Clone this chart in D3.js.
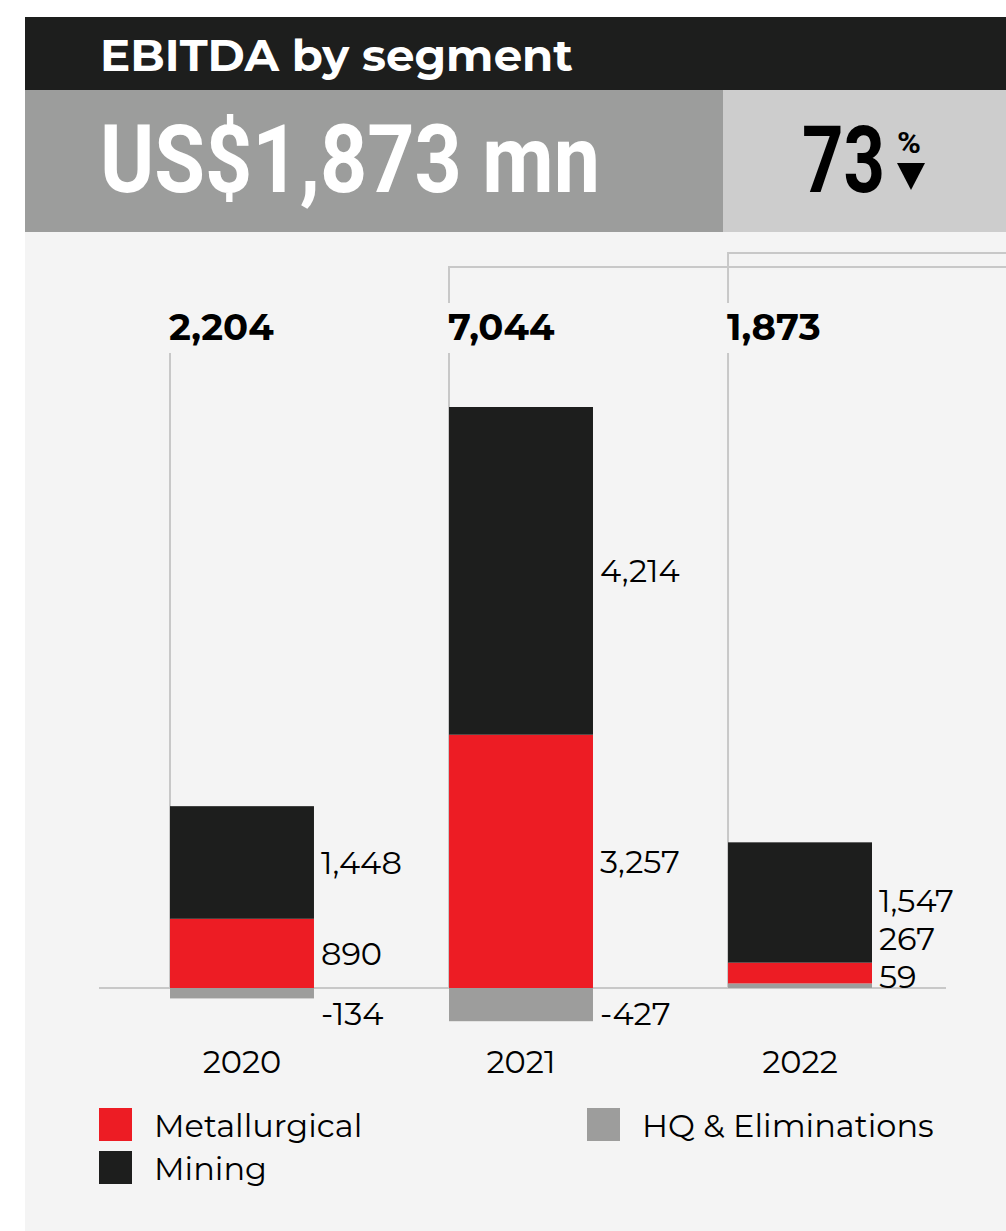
<!DOCTYPE html>
<html>
<head>
<meta charset="utf-8">
<script src="https://cdn.jsdelivr.net/npm/d3@7"></script>
<style>
  html, body { margin: 0; padding: 0; background: #ffffff; }
  svg { display: block; }
</style>
</head>
<body>
<script>
// ---------------- data ----------------
const years = ["2020", "2021", "2022"];
const metallurgical = [890, 3257, 267];
const mining = [1448, 4214, 1547];
const hqEliminations = [-134, -427, 59];
const totals = [2204, 7044, 1873];
const seriesNames = ["Metallurgical", "Mining", "HQ & Eliminations"];
const titleText = "EBITDA by segment";
const headlineText = "US$1,873 mn";
const changePercent = 73;

// ---------------- layout / style ----------------
const W = 1006, H = 1231;
const colors = { "Metallurgical": "#ed1c24", "Mining": "#1d1e1d", "HQ & Eliminations": "#9d9d9c" };
const labelFont = "Montserrat, 'DejaVu Sans', sans-serif";
const condFont = "Roboto, 'Liberation Sans', sans-serif";
const baseY = 988, topY = 407;
const lineColor = "#c8c8c8";

const svg = d3.select("body").append("svg").attr("width", W).attr("height", H);

// text fitted horizontally to a target width via a scale transform
function fittedText(tx, ty, width, font, weight, size, fill, str) {
  const t = svg.append("text").attr("x", 0).attr("y", 0)
    .attr("font-family", font).attr("font-weight", weight).attr("font-size", size)
    .attr("fill", fill).text(str);
  const len = t.node().getComputedTextLength() || width;
  t.attr("transform", `translate(${tx},${ty}) scale(${width / len},1)`);
  return t;
}

// backgrounds
svg.append("rect").attr("x", 25).attr("y", 232).attr("width", W - 25).attr("height", H - 232).attr("fill", "#f4f4f4");
svg.append("rect").attr("x", 25).attr("y", 17).attr("width", W - 25).attr("height", 73).attr("fill", "#1d1e1d");
svg.append("rect").attr("x", 25).attr("y", 90).attr("width", 698).attr("height", 142).attr("fill", "#9c9d9c");
svg.append("rect").attr("x", 723).attr("y", 90).attr("width", W - 723).attr("height", 142).attr("fill", "#cdcdcd");

// header texts
fittedText(100, 71, 473, labelFont, 700, 44, "#ffffff", titleText);
fittedText(100, 192, 500, condFont, 700, 94, "#ffffff", headlineText);
fittedText(802, 192, 83, condFont, 700, 92, "#000000", String(changePercent));
fittedText(897, 153, 24, condFont, 700, 30, "#000000", "%");
svg.append("path").attr("d", "M897,163 L925,163 L911,190 Z").attr("fill", "#000000");

// ---------------- scales ----------------
const fmt = d3.formatLocale({ decimal: ".", thousands: ",", grouping: [3], currency: ["$", ""], minus: "-" }).format(",");

const rows = years.map((y, i) => ({
  year: y,
  "Metallurgical": metallurgical[i],
  "Mining": mining[i],
  "HQ & Eliminations": hqEliminations[i],
  total: totals[i]
}));

const stackKeys = ["HQ & Eliminations", "Metallurgical", "Mining"];
const stacked = d3.stack().keys(stackKeys).offset(d3.stackOffsetDiverging)(rows);

const maxPos = d3.max(rows, r => stackKeys.reduce((s, k) => s + Math.max(0, r[k]), 0));

const x = d3.scaleBand().domain(years).range([170, 872]).paddingInner(0.484).paddingOuter(0);
const y = d3.scaleLinear().domain([0, maxPos]).range([baseY, topY]);

// baseline
svg.append("line").attr("x1", 99).attr("x2", 946).attr("y1", y(0)).attr("y2", y(0))
  .attr("stroke", lineColor).attr("stroke-width", 2);

// vertical guide lines under total labels
svg.append("g").selectAll("line").data(rows).join("line")
  .attr("x1", d => x(d.year)).attr("x2", d => x(d.year))
  .attr("y1", 353).attr("y2", y(0))
  .attr("stroke", lineColor).attr("stroke-width", 2);

// comparison brackets (2021 and 2022 to the % change box)
const bracketY = { "2021": 267, "2022": 253 };
Object.keys(bracketY).forEach(yr => {
  const bx = x(yr), by = bracketY[yr];
  svg.append("path")
    .attr("d", `M${bx},303 L${bx},${by} L${W},${by}`)
    .attr("fill", "none").attr("stroke", lineColor).attr("stroke-width", 2);
});

// bars
const gBars = svg.append("g");
stacked.forEach(layer => {
  gBars.append("g").attr("fill", colors[layer.key])
    .selectAll("rect").data(layer).join("rect")
    .attr("x", d => x(d.data.year))
    .attr("width", x.bandwidth())
    .attr("y", d => y(Math.max(d[0], d[1])))
    .attr("height", d => Math.abs(y(d[0]) - y(d[1])));
});

// total labels
svg.append("g").selectAll("text").data(rows).join("text")
  .attr("x", d => x(d.year) - 1).attr("y", 340)
  .attr("font-family", labelFont).attr("font-weight", 700).attr("font-size", 37)
  .attr("fill", "#000").text(d => fmt(d.total));

// segment value labels
const labelData = [];
rows.forEach((r, i) => {
  const pos = [];
  stacked.forEach(layer => {
    const d = layer[i];
    const v = r[layer.key];
    const mid = (y(d[0]) + y(d[1])) / 2;
    if (v >= 0) pos.push({ year: r.year, v, mid });
    else labelData.push({ year: r.year, v, cy: Math.max(mid, y(0) + 25) });
  });
  // positive labels: from bottom up, avoid overlaps
  let prev = y(0) + 26;
  pos.sort((a, b) => b.mid - a.mid).forEach(p => {
    const cy = Math.min(p.mid, prev - 38);
    prev = cy;
    labelData.push({ year: r.year, v: p.v, cy });
  });
});

svg.append("g").selectAll("text").data(labelData).join("text")
  .attr("x", d => x(d.year) + x.bandwidth() + 7)
  .attr("y", d => d.cy)
  .attr("dy", "0.36em")
  .attr("font-family", labelFont).attr("font-size", 32)
  .attr("fill", "#000").text(d => fmt(d.v));

// year axis labels
const xAxis = d3.axisBottom(x).tickSize(0).tickPadding(0);
const gx = svg.append("g").attr("transform", `translate(0, 1073)`).call(xAxis);
gx.select(".domain").remove();
gx.selectAll("text").attr("dy", 0).attr("y", 0)
  .attr("font-family", labelFont).attr("font-size", 32).attr("fill", "#000");

// legend
const legendItems = [
  { name: seriesNames[0], lx: 99, ly: 1108 },
  { name: seriesNames[1], lx: 99, ly: 1151 },
  { name: seriesNames[2], lx: 587, ly: 1108 }
];
const gl = svg.append("g").selectAll("g").data(legendItems).join("g")
  .attr("transform", d => `translate(${d.lx},${d.ly})`);
gl.append("rect").attr("width", 33).attr("height", 33).attr("fill", d => colors[d.name]);
gl.append("text").attr("x", 55).attr("y", 17).attr("dy", "0.36em")
  .attr("font-family", labelFont).attr("font-size", 32).attr("fill", "#000")
  .text(d => d.name);
</script>
</body>
</html>
